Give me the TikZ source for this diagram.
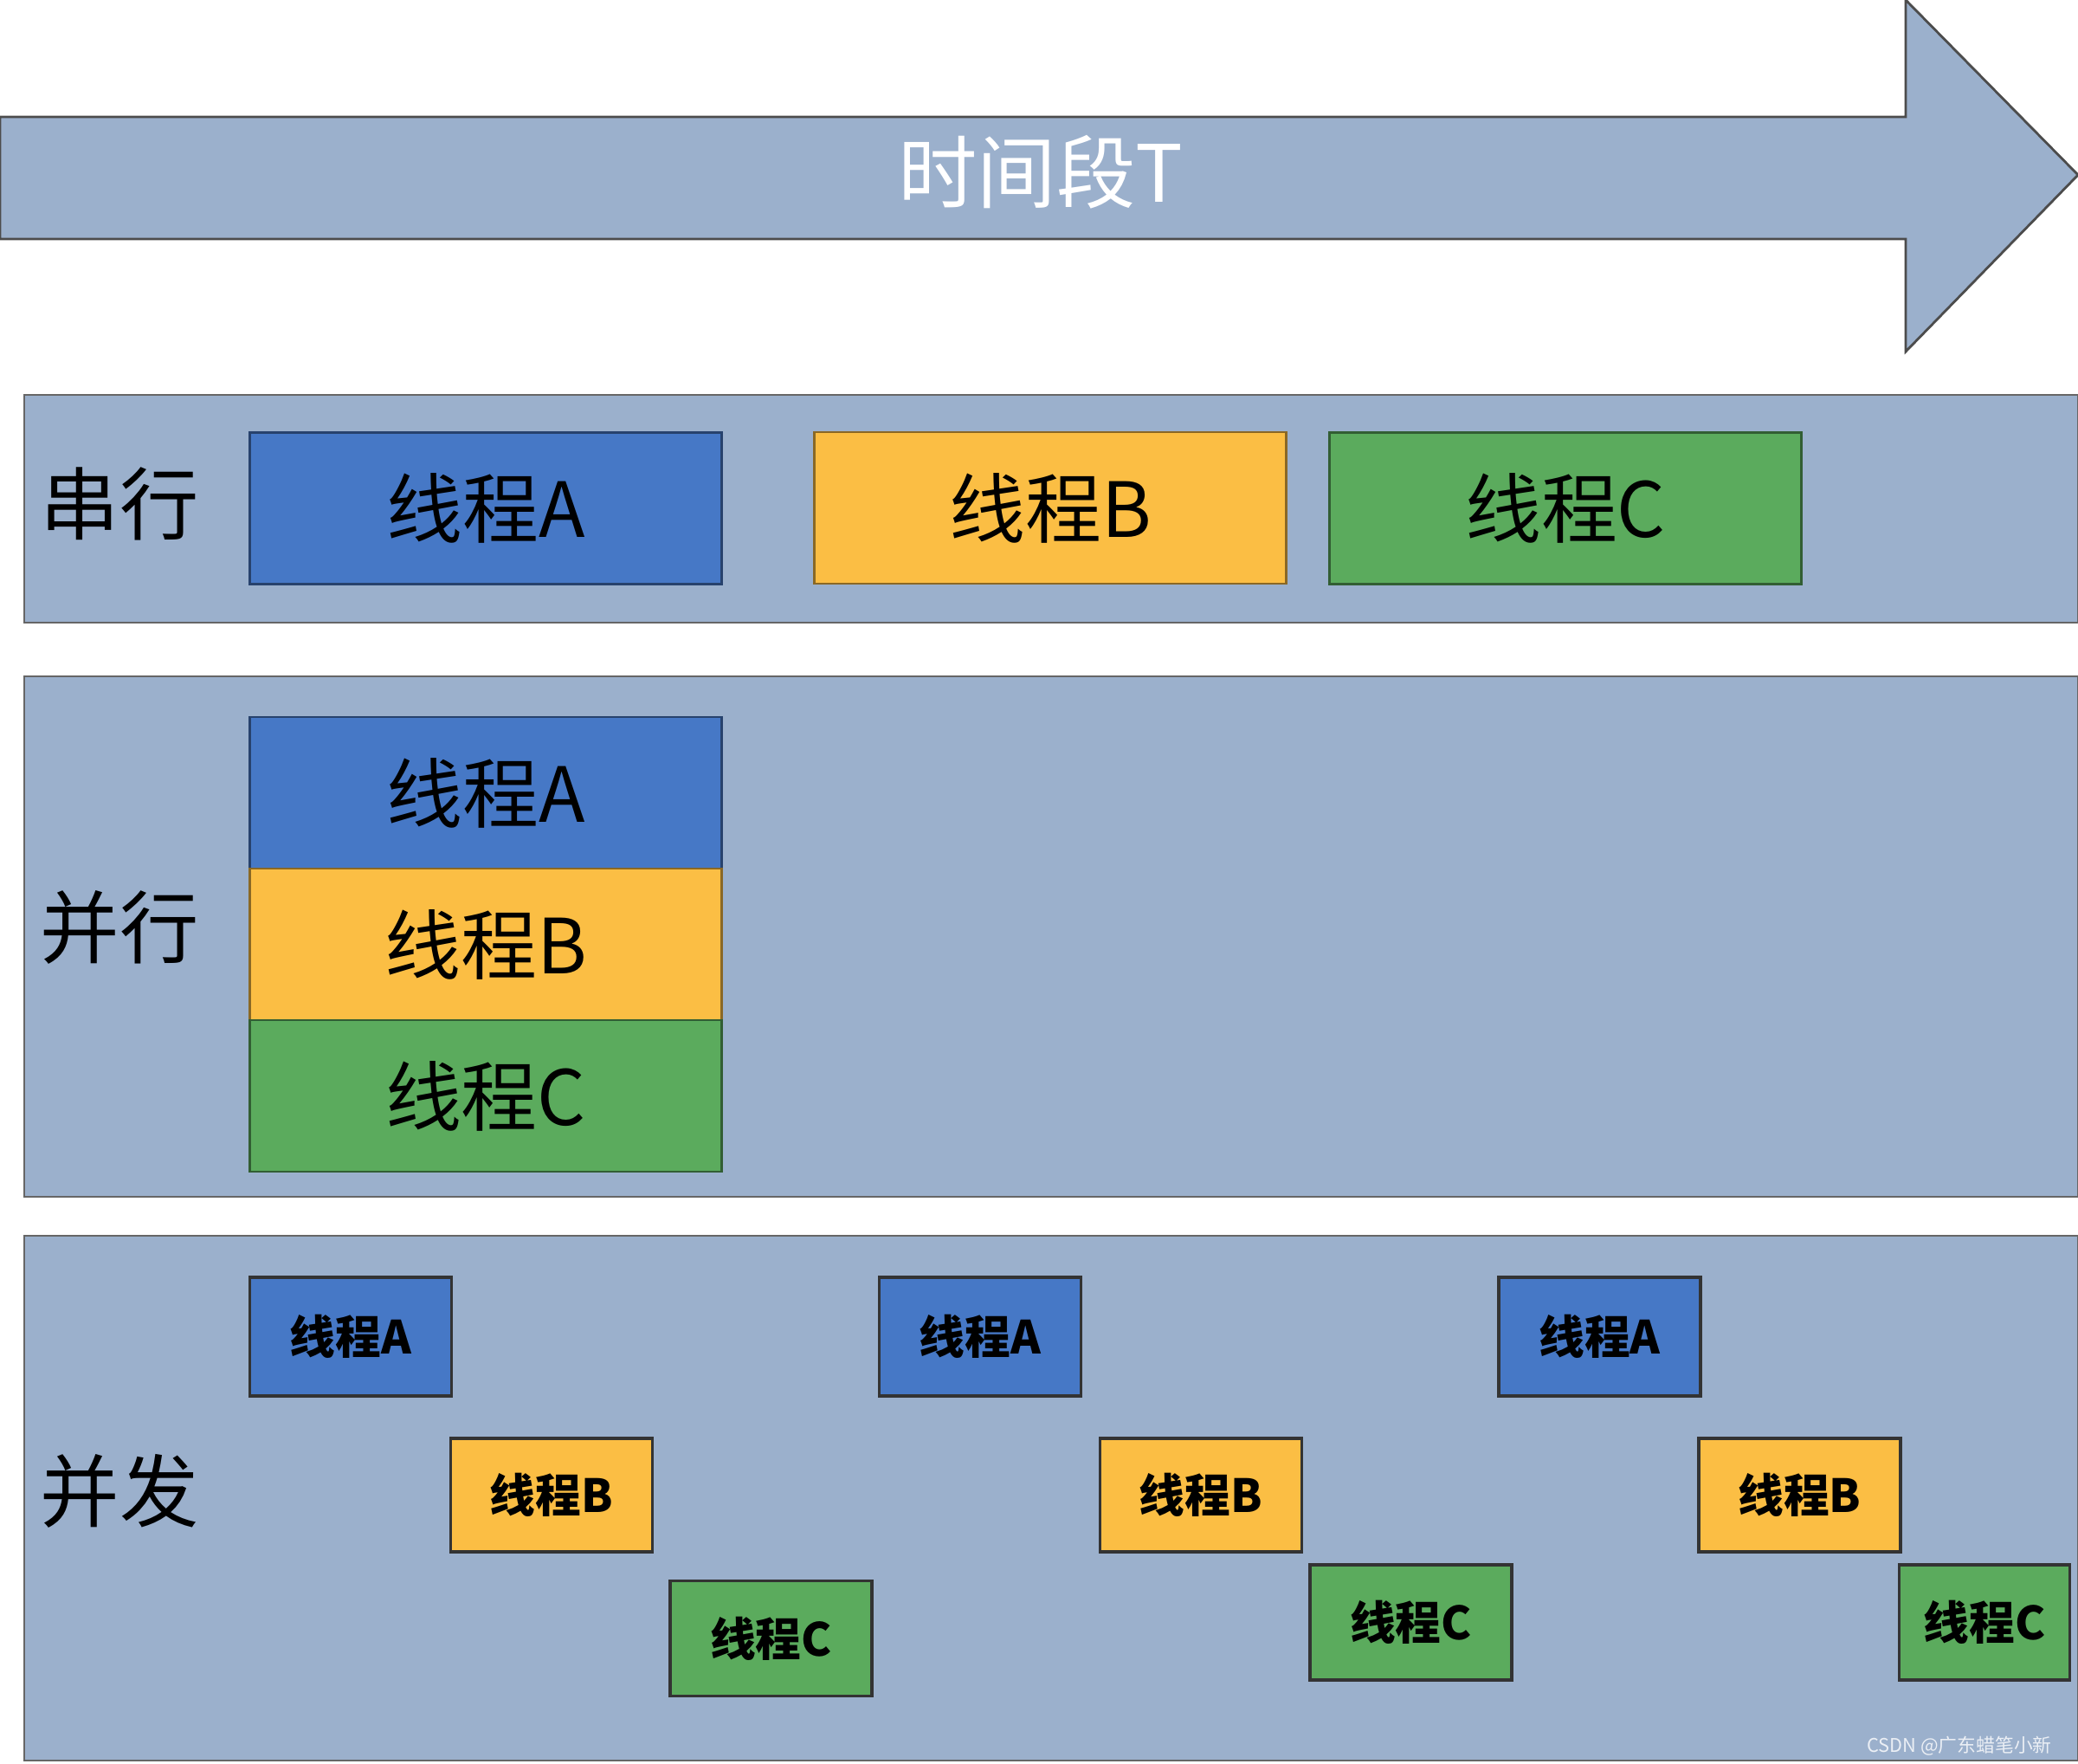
\documentclass[tikz,border=0pt]{standalone}
\usepackage{fontspec}
\newfontfamily\cjk{Noto Sans CJK SC}
\usepackage{tikz}
\definecolor{bandgray}{HTML}{9BB0CC}
\definecolor{threadA}{HTML}{4678C6}
\definecolor{threadB}{HTML}{FBBE44}
\definecolor{threadC}{HTML}{5BAB5D}

\begin{document}
\begin{tikzpicture}[x=1cm, y=-1cm,
    band/.style={draw=black!60, line width=0.8pt, fill=bandgray, inner sep=0pt},
    tag/.style={font=\cjk\fontsize{26}{30}\selectfont, text=black},
    bigthread/.style={draw=#1!55!black, line width=0.8pt, fill=#1, inner sep=0pt,
      minimum width=5.45cm, minimum height=1.75cm, font=\cjk\fontsize{25}{30}\selectfont},
    smallthread/.style={draw=black!80, line width=1pt, fill=#1, inner sep=0pt,
      minimum width=2.33cm, minimum height=1.33cm, font=\cjk\bfseries\fontsize{15}{18}\selectfont}]
  \useasboundingbox (0,0) rectangle (24,20.36);
  % Time arrow
  \draw[draw=black!70, line width=0.8pt, fill=bandgray]
    (0,1.35) -- (22.01,1.35) -- (22.01,0) -- (24,2.02) -- (22.01,4.06)
    -- (22.01,2.76) -- (0,2.76) -- cycle;
  \node[font=\cjk\fontsize{26}{30}\selectfont, text=white] (period) at (12.02,1.99) {时间段T};
  % Serial band
  \node[band, minimum width=23.72cm, minimum height=2.63cm] (serial) at (12.14,5.875) {};
  \node[tag] (serialtag) at (1.38,5.82) {串行};
  \node[bigthread=threadA] (sA) at (5.61,5.87) {线程A};
  \node[bigthread=threadB] (sB) at (12.13,5.865) {线程B};
  \node[bigthread=threadC] (sC) at (18.08,5.87) {线程C};
  % Parallel band
  \node[band, minimum width=23.72cm, minimum height=6.01cm] (parallel) at (12.14,10.815) {};
  \node[tag] (paralleltag) at (1.38,10.71) {并行};
  \node[bigthread=threadA] (pA) at (5.61,9.155) {线程A};
  \node[bigthread=threadB] (pB) at (5.61,10.905) {线程B};
  \node[bigthread=threadC] (pC) at (5.61,12.655) {线程C};
  % Concurrent band
  \node[band, minimum width=23.72cm, minimum height=6.06cm] (concurrent) at (12.14,17.30) {};
  \node[tag] (concurrenttag) at (1.38,17.22) {并发};
  \node[smallthread=threadA, minimum height=1.37cm] (cA1) at (4.05,15.435) {线程A};
  \node[smallthread=threadA, minimum height=1.37cm] (cA2) at (11.32,15.435) {线程A};
  \node[smallthread=threadA, minimum height=1.37cm] (cA3) at (18.475,15.435) {线程A};
  \node[smallthread=threadB, minimum height=1.31cm] (cB1) at (6.37,17.265) {线程B};
  \node[smallthread=threadB, minimum height=1.31cm] (cB2) at (13.87,17.265) {线程B};
  \node[smallthread=threadB, minimum height=1.31cm] (cB3) at (20.785,17.265) {线程B};
  \node[smallthread=threadC] (cC1) at (8.905,18.92) {线程C};
  \node[smallthread=threadC] (cC2) at (16.295,18.735) {线程C};
  \node[smallthread=threadC, minimum width=1.97cm] (cC3) at (22.92,18.735) {线程C};
  % Watermark
  \node[font=\cjk\fontsize{6.2}{7}\selectfont, text=white!80!bandgray, anchor=east] (mark) at (23.82,20.16) {CSDN @广东蜡笔小新};
\end{tikzpicture}
\end{document}
